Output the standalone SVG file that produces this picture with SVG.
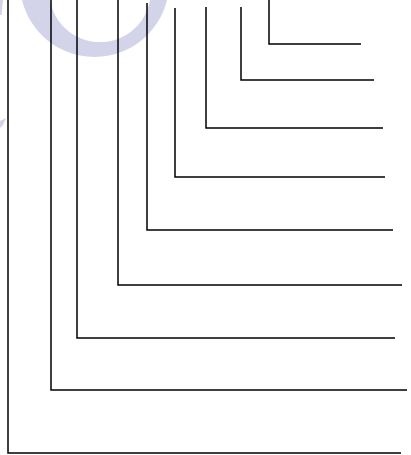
<svg xmlns="http://www.w3.org/2000/svg" width="411" height="455" viewBox="0 0 411 455">
<style>
.ld{fill:none;stroke:#000;stroke-width:1.5;stroke-linejoin:miter}
.wm{fill:#d3d4ea;stroke:none}
</style>
<rect width="411" height="455" fill="#fff"/>
<g id="watermark">
<path class="wm" fill-rule="evenodd" d="M19.9,-17.6 a74.6,74.6 0 1,0 149.2,0 a74.6,74.6 0 1,0 -149.2,0 Z M49.2,-8.8 a50.8,50.8 0 1,0 101.6,0 a50.8,50.8 0 1,0 -101.6,0 Z"/>
<polygon class="wm" points="0,0 3,0 1.5,15 0,15"/>
<polygon class="wm" points="0,121 6,118 3,125 0,128"/>
</g>
<g id="leaders">
<polyline id="l1" class="ld" points="269,0 269,44 361,44"/>
<polyline id="l2" class="ld" points="241,7 241,80 374,80"/>
<polyline id="l3" class="ld" points="206,7 206,128 383,128"/>
<polyline id="l4" class="ld" points="175,8 175,177 385,177"/>
<polyline id="l5" class="ld" points="147,3 147,230 393,230"/>
<polyline id="l6" class="ld" points="118,0 118,285 402,285"/>
<polyline id="l7" class="ld" points="77,0 77,338 395,338"/>
<polyline id="l8" class="ld" points="51,0 51,390 407,390"/>
<polyline id="l9" class="ld" points="8,0 8,453 401,453"/>
</g>
</svg>
